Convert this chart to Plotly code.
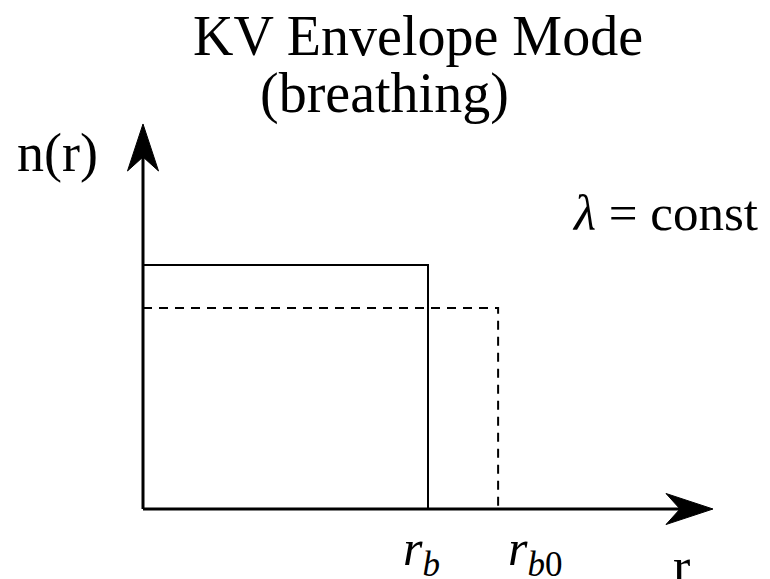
import plotly.graph_objects as go

# ---- data (schematic values) ----
r_b = 1.0          # current beam radius
r_b0 = 1.246       # equilibrium beam radius
n_solid = 1.0      # density for radius r_b
n_dashed = 0.824   # density for radius r_b0
r_axis_max = 2.0
n_axis_max = 1.578

title_lines = ["KV Envelope Mode", "(breathing)"]
label_y = "n(r)"
label_x = "r"
label_rb = "<i>r</i><sub><i>b</i></sub>"
label_rb0 = "<i>r</i><sub><i>b</i>0</sub>"
label_const = "<i>λ</i> = const"

W, H = 770, 579
OFF = 8                   # page body margin
ox, oy = 143 - OFF, 509 - OFF   # origin in figure pixels
sx, sy = 285.0, 244.0     # pixels per unit
xr = [(0 - ox) / sx, (W - ox) / sx]
yr = [(oy - H) / sy, (oy - 0) / sy]

def X(px):  # page pixel -> data
    return (px - OFF - ox) / sx

def Y(py):
    return (oy - (py - OFF)) / sy

fig = go.Figure()

# axes lines
fig.add_trace(go.Scatter(x=[0, r_axis_max - 30 / sx], y=[0, 0], mode="lines",
                         line=dict(color="black", width=3), hoverinfo="skip"))
fig.add_trace(go.Scatter(x=[0, 0], y=[0, n_axis_max - 30 / sy], mode="lines",
                         line=dict(color="black", width=3), hoverinfo="skip"))

# arrowheads (filled, notched)
L, N, Wd = 47, 33, 15.5
fig.add_trace(go.Scatter(
    x=[0, -Wd / sx, 0, Wd / sx, 0],
    y=[n_axis_max, n_axis_max - L / sy, n_axis_max - N / sy, n_axis_max - L / sy, n_axis_max],
    mode="lines", fill="toself", fillcolor="black", line=dict(color="black", width=1),
    hoverinfo="skip"))
fig.add_trace(go.Scatter(
    x=[r_axis_max, r_axis_max - L / sx, r_axis_max - N / sx, r_axis_max - L / sx, r_axis_max],
    y=[0, Wd / sy, 0, -Wd / sy, 0],
    mode="lines", fill="toself", fillcolor="black", line=dict(color="black", width=1),
    hoverinfo="skip"))

# solid profile
fig.add_trace(go.Scatter(x=[0, r_b, r_b], y=[n_solid, n_solid, 0], mode="lines",
                         line=dict(color="black", width=2), hoverinfo="skip"))
# dashed profile
fig.add_trace(go.Scatter(x=[0, r_b0, r_b0], y=[n_dashed, n_dashed, 0], mode="lines",
                         line=dict(color="black", width=2, dash="9px,7px"), hoverinfo="skip"))

font = "Liberation Serif, Times New Roman, serif"

def ann(text, px, py, size):
    fig.add_annotation(x=X(px), y=Y(py), xref="x", yref="y", text=text, showarrow=False,
                       xanchor="center", yanchor="middle",
                       font=dict(family=font, size=size, color="black"))

ann(title_lines[0], 418, 36, 56)
ann(title_lines[1], 384, 93, 56)
ann(label_y, 57, 153, 54)
ann(label_const, 665, 213, 51)
ann(label_rb, 421, 552, 50)
ann(label_rb0, 535, 552, 50)
ann(label_x, 681, 566, 52)

fig.update_layout(
    width=W, height=H, margin=dict(l=0, r=0, t=0, b=0),
    paper_bgcolor="white", plot_bgcolor="white", showlegend=False,
    xaxis=dict(range=xr, visible=False, fixedrange=True),
    yaxis=dict(range=yr, visible=False, fixedrange=True),
)

fig.write_html("out.html")
